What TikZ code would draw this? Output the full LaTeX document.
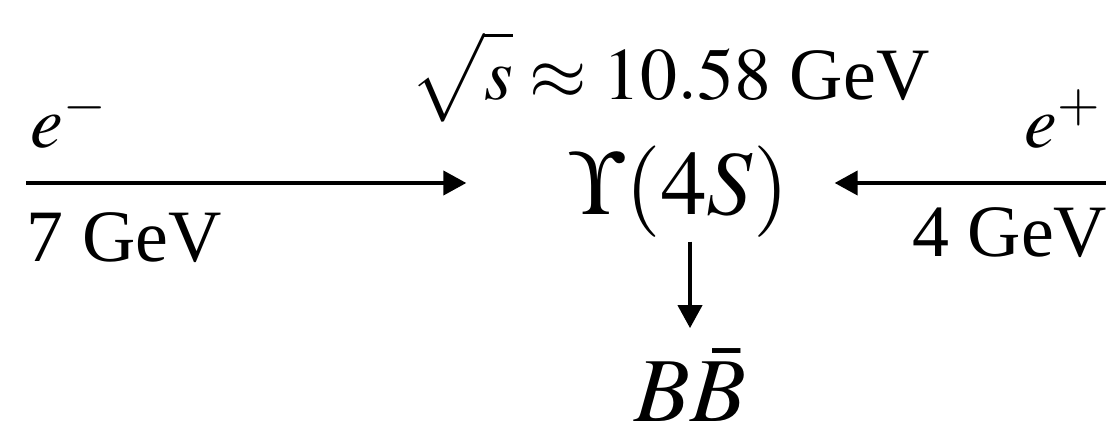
\documentclass[tikz,border=0pt]{standalone}
\usepackage{amsmath}
\usepackage{mathptmx}
\usepackage{fontspec}
\setmainfont{Liberation Serif}
\usetikzlibrary{arrows.meta}
\begin{document}
\begin{tikzpicture}[x=0.01cm,y=-0.01cm,
  lbl/.style={inner sep=0pt,font=\fontsize{21}{25}\selectfont},
  big/.style={inner sep=0pt,font=\fontsize{26}{31}\selectfont},
  beam/.style={line width=1.15pt,-{Triangle[length=0.23cm,width=0.24cm]}}]
\useasboundingbox (0,0) rectangle (1106,434);
\node[big,anchor=base] (ups) at (679,215) {$\Upsilon(4S)$};
\node[big,anchor=base] (bb) at (690,422) {$B\bar{B}$};
\node[lbl,anchor=base] (cms) at (670,100) {$\sqrt{\vphantom{(}s}\approx 10.58$ GeV};
\node[lbl,anchor=base west] (em) at (30,148) {$e^-$};
\node[lbl,anchor=base west] (eml) at (26,262) {7 GeV};
\node[lbl,anchor=base east] (ep) at (1102,148) {$e^+$};
\node[lbl,anchor=base east] (epl) at (1108,257) {4 GeV};
\coordinate (lstart) at (26,183);
\coordinate (rstart) at (1106,183);
\draw[beam,shorten >=1.02cm] (lstart) -- (lstart -| ups.west);
\draw[beam,shorten >=0.45cm] (rstart) -- (rstart -| ups.east);
\draw[beam] ([yshift=-0.03cm]bb.north |- ups.south) -- ([yshift=0.2cm]bb.north);
\end{tikzpicture}
\end{document}
